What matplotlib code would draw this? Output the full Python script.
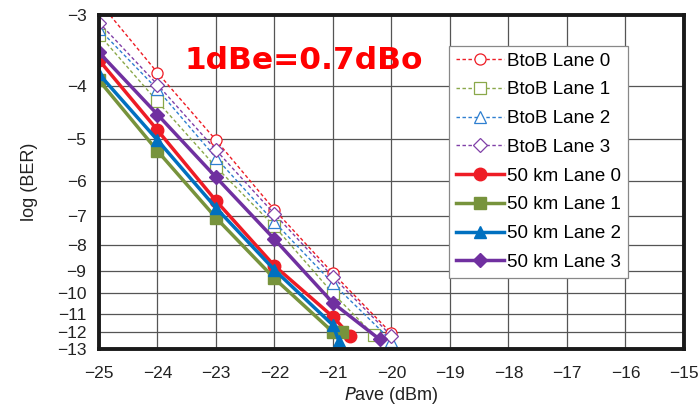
import math
import numpy as np
import matplotlib
matplotlib.use("Agg")
import matplotlib.pyplot as plt

# received power (dBm) and log10(BER)
btob_l0_x = [-25, -24, -23, -22, -21, -20]
btob_l0_y = [-2.85, -3.78, -5.02, -6.82, -9.11, -12.07]
btob_l1_x = [-25, -24, -23, -22, -21, -20.3]
btob_l1_y = [-3.24, -4.26, -5.64, -7.35, -10.0, -12.17]
btob_l2_x = [-25, -24, -23, -22, -21, -20]
btob_l2_y = [-3.17, -4.05, -5.42, -7.21, -9.55, -12.5]
btob_l3_x = [-25, -24, -23, -22, -21, -20]
btob_l3_y = [-3.09, -3.97, -5.24, -6.95, -9.26, -12.22]

km_l0_x = [-25, -24, -23, -22, -21, -20.7]
km_l0_y = [-3.59, -4.81, -6.55, -8.80, -11.16, -12.22]
km_l1_x = [-25, -24, -23, -22, -21, -20.85]
km_l1_y = [-3.90, -5.26, -7.07, -9.33, -12.0, -12.0]
km_l2_x = [-25, -24, -23, -22, -21, -20.9]
km_l2_y = [-3.80, -5.02, -6.76, -8.97, -11.61, -12.5]
km_l3_x = [-25, -24, -23, -22, -21, -20.2]
km_l3_y = [-3.48, -4.50, -5.90, -7.79, -10.46, -12.42]

y_ticks = list(range(-3, -14, -1))
x_ticks = list(range(-25, -14))

erfc_v = np.vectorize(math.erfc, otypes=[float])


def ber_fwd(y):
    # log10(BER) -> -log10(Q), where BER = 0.5*erfc(Q/sqrt2)
    y = np.clip(np.asarray(y, dtype=float), -30, -0.5)
    ber = 10.0 ** y
    lo = np.zeros_like(ber)
    hi = np.full_like(ber, 12.0)
    for _ in range(50):
        mid = (lo + hi) / 2
        big = 0.5 * erfc_v(mid / math.sqrt(2)) > ber
        lo = np.where(big, mid, lo)
        hi = np.where(big, hi, mid)
    return -np.log10((lo + hi) / 2)


def ber_inv(v):
    q = 10.0 ** (-np.clip(np.asarray(v, dtype=float), -1, 1))
    return np.log10(0.5 * erfc_v(q / math.sqrt(2)))


plt.rcParams['font.family'] = ['Liberation Sans', 'DejaVu Sans']

fig = plt.figure(figsize=(7, 4.05), dpi=100)
ax = fig.add_axes([0.1414, 0.1383, 0.8356, 0.8247])
ax.set_yscale('function', functions=(ber_fwd, ber_inv))

red, green, blue, purple = '#ee1c25', '#77933c', '#0070c0', '#7030a0'

dash = dict(lw=1.0, ls=(0, (2.5, 1.8)), markerfacecolor='white', markeredgewidth=0.9)
ax.plot(btob_l0_x, btob_l0_y, color=red, marker='o', markersize=8, label='BtoB Lane 0', **dash)
ax.plot(btob_l1_x, btob_l1_y, color='#8aa84a', marker='s', markersize=8, label='BtoB Lane 1', **dash)
ax.plot(btob_l2_x, btob_l2_y, color='#2e7fd0', marker='^', markersize=8, label='BtoB Lane 2', **dash)
ax.plot(btob_l3_x, btob_l3_y, color='#8040a8', marker='D', markersize=7, label='BtoB Lane 3', **dash)

solid = dict(lw=2.5)
ax.plot(km_l0_x, km_l0_y, color=red, marker='o', markersize=9, label='50 km Lane 0', **solid)
ax.plot(km_l1_x, km_l1_y, color=green, marker='s', markersize=8, label='50 km Lane 1', **solid)
ax.plot(km_l2_x, km_l2_y, color=blue, marker='^', markersize=9, label='50 km Lane 2', **solid)
ax.plot(km_l3_x, km_l3_y, color=purple, marker='D', markersize=7, label='50 km Lane 3', **solid)

ax.set_xlim(-25, -15)
ax.set_ylim(-13, -3)
ax.set_xticks(x_ticks)
ax.set_xticklabels([f'\u2212{abs(t)}' for t in x_ticks])
ax.set_yticks(y_ticks)
ax.set_yticklabels([f'\u2212{abs(t)}' for t in y_ticks])
ax.tick_params(length=0, labelsize=12.5, colors='#222222')
ax.tick_params(axis='x', pad=12)
ax.tick_params(axis='y', pad=9)
ax.minorticks_off()
ax.grid(True, color='#555555', lw=0.9)
ax.set_axisbelow(True)
for sp in ax.spines.values():
    sp.set_linewidth(2.8)
    sp.set_color('#1a1a1a')

ax.set_ylabel('log (BER)', fontsize=13, color='#222222', labelpad=14)
ax.set_xlabel('$\\it{P}$ave (dBm)', fontsize=13, color='#222222', labelpad=3)

ax.text(0.147, 0.865, '1dBe=0.7dBo', transform=ax.transAxes, fontsize=22.5,
        fontweight='bold', color='#ff0000', family='DejaVu Sans', va='center', ha='left')

leg = ax.legend(loc='upper right', bbox_to_anchor=(0.904, 0.907), fontsize=13.5,
                handlelength=2.6, handletextpad=0.15, labelspacing=0.62,
                borderaxespad=0, fancybox=False, framealpha=1, edgecolor='#888888',
                borderpad=0.35)
leg.get_frame().set_linewidth(0.9)

fig.savefig('out.png', dpi=100)
